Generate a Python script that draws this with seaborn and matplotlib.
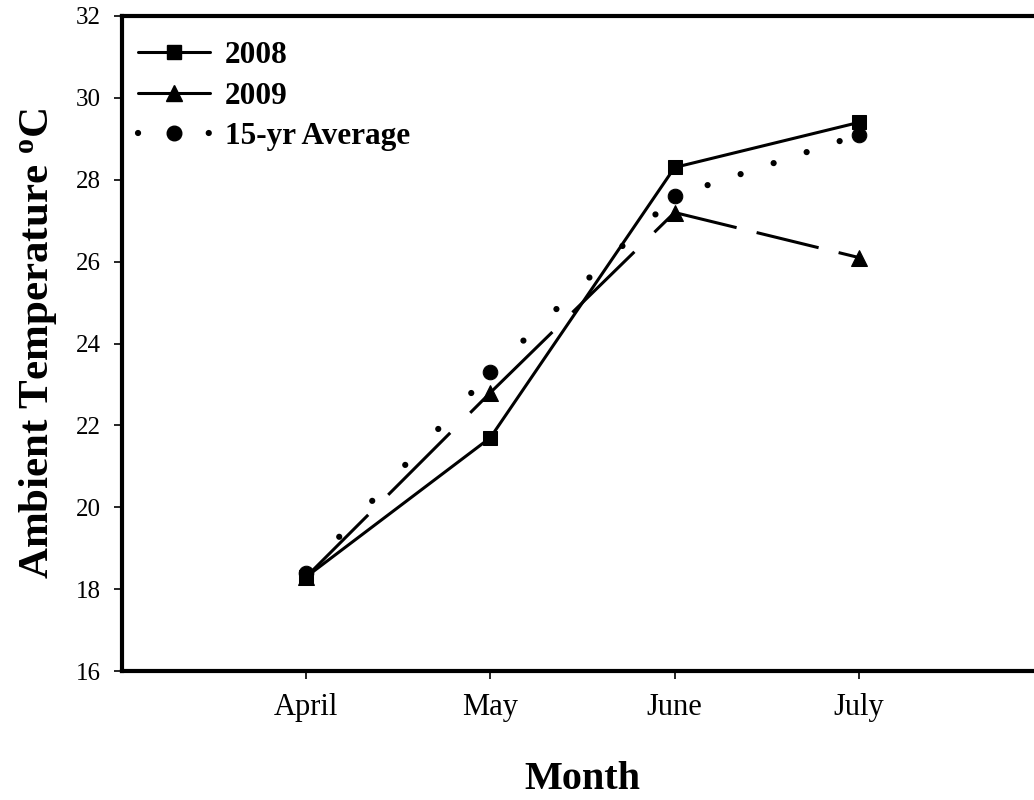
import matplotlib
matplotlib.use("Agg")
import matplotlib.pyplot as plt
from matplotlib.lines import Line2D
import seaborn as sns
import pandas as pd
import numpy as np

months = ["April", "May", "June", "July"]
temp_2008 = [18.3, 21.7, 28.3, 29.4]
temp_2009 = [18.3, 22.8, 27.2, 26.1]
temp_avg15 = [18.4, 23.3, 27.6, 29.1]
y_ticks = [16, 18, 20, 22, 24, 26, 28, 30, 32]

sns.set_theme(style="ticks")
plt.rcParams["font.family"] = ["Liberation Serif", "DejaVu Serif"]
plt.rcParams["mathtext.fontset"] = "custom"
plt.rcParams["mathtext.rm"] = "Liberation Serif"
plt.rcParams["mathtext.bf"] = "Liberation Serif:bold"
for key in ["text.color", "axes.labelcolor", "xtick.color", "ytick.color",
            "axes.edgecolor"]:
    plt.rcParams[key] = "black"

DPI = 100
pos = list(range(1, len(months) + 1))
series_names = ["2008", "2009", "15-yr Average"]
df = pd.DataFrame({
    "pos": pos * 3,
    "temp": temp_2008 + temp_2009 + temp_avg15,
    "series": [n for n in series_names for _ in months],
})

fig = plt.figure(figsize=(10.34, 8.0), dpi=DPI)
ax = fig.add_axes([122 / 1034, 129 / 800, 921 / 1034, 655 / 800])
ax.set_xlim(0, 5)
ax.set_ylim(16, 32)

LW = 2.2
DOT_LW = 4.5
MS = 10

# Patterned lines: dash and gap lengths are defined along the x direction (px),
# so each segment gets its own pattern stretched by its slope.
patterns = {
    "2009": dict(on=62, off=20, lw=LW, cap="butt"),
    "15-yr Average": dict(on=0.01, off=33, lw=DOT_LW, cap="round"),
}
markers = {"2008": ("s", MS), "2009": ("^", MS + 1), "15-yr Average": ("o", MS + 0.5)}


def segment_style(x0, y0, x1, y1, pat):
    p0 = ax.transData.transform((x0, y0))
    p1 = ax.transData.transform((x1, y1))
    stretch = np.hypot(*(p1 - p0)) / abs(p1[0] - p0[0])
    px_to_units = 72.0 / DPI / pat["lw"]
    return (0, (pat["on"] * stretch * px_to_units, pat["off"] * stretch * px_to_units))


# 2008: solid line with square markers
sub08 = df[df["series"] == "2008"]
sns.lineplot(data=sub08, x="pos", y="temp", ax=ax, color="black", linewidth=LW,
             marker="s", markersize=MS, markeredgecolor="black",
             markerfacecolor="black", legend=False)

for name in ["2009", "15-yr Average"]:
    sub = df[df["series"] == name].reset_index(drop=True)
    pat = patterns[name]
    for i in range(len(sub) - 1):
        seg = sub.iloc[i:i + 2]
        ls = segment_style(seg["pos"].iloc[0], seg["temp"].iloc[0],
                           seg["pos"].iloc[1], seg["temp"].iloc[1], pat)
        sns.lineplot(data=seg, x="pos", y="temp", ax=ax, color="black",
                     linewidth=pat["lw"], linestyle=ls,
                     dash_capstyle=pat["cap"], legend=False)
    mk, ms = markers[name]
    sns.lineplot(data=sub, x="pos", y="temp", ax=ax, color="black",
                 linestyle="", marker=mk, markersize=ms,
                 markeredgecolor="black", markerfacecolor="black", legend=False)

ax.set_xlim(0, 5)
ax.set_ylim(16, 32)
ax.set_xticks(pos)
ax.set_xticklabels(months)
ax.set_yticks(y_ticks)

for s in ax.spines.values():
    s.set_linewidth(3.0)
    s.set_color("black")
ax.tick_params(axis="both", direction="out", length=6, width=1.2, colors="black")
ax.tick_params(axis="x", labelsize=22, pad=10)
ax.tick_params(axis="y", labelsize=18, pad=9)

ax.set_xlabel("Month", fontsize=29, fontweight="bold", labelpad=28)
ax.set_ylabel(r"Ambient Temperature $\mathbf{^{o}}$C", fontsize=31,
              fontweight="bold", labelpad=12)

handles = [
    Line2D([], [], color="black", linewidth=LW, marker="s", markersize=MS),
    Line2D([], [], color="black", linewidth=LW, marker="^", markersize=MS + 1),
    Line2D([], [], color="black", linewidth=DOT_LW, marker="o", markersize=MS + 0.5,
           linestyle=(0, (0.01, 35.3 * 72.0 / DPI / DOT_LW)), dash_capstyle="round"),
]
ax.legend(handles, series_names, loc="upper left", frameon=False,
          bbox_to_anchor=(0.0, 1.0 - 9 / 655),
          handlelength=2.3, prop={"weight": "bold", "size": 22.5},
          borderaxespad=0.2, borderpad=0.3, labelspacing=0.38, handletextpad=0.5)

fig.savefig("out.png", dpi=DPI)
